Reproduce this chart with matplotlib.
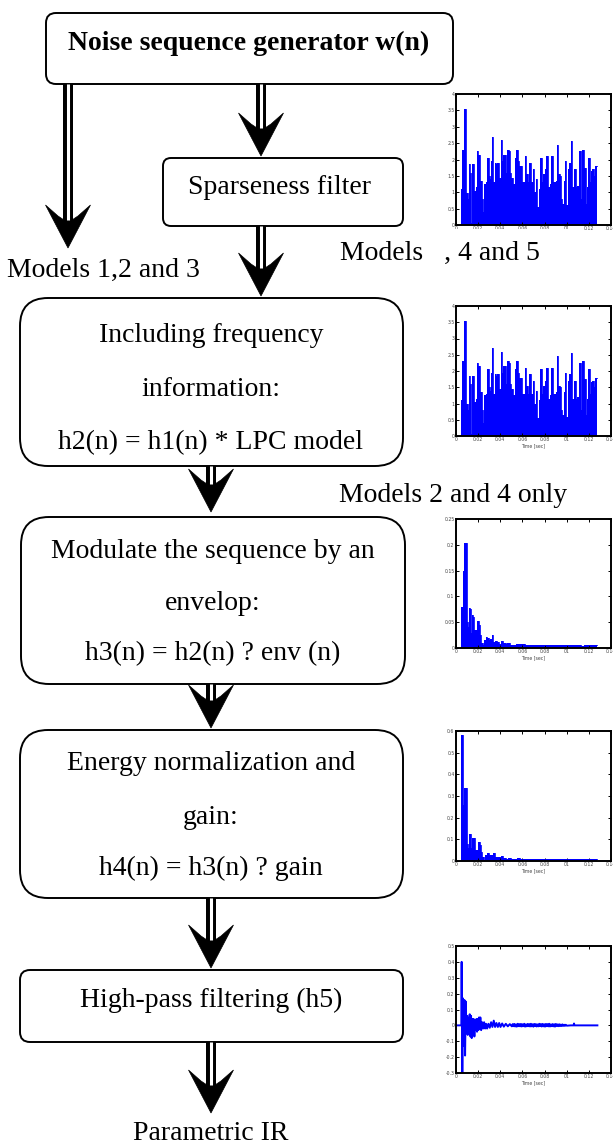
import matplotlib.pyplot as plt
from matplotlib.patches import FancyBboxPatch, Polygon, Rectangle

# ---- data ----
# h1(n) / h2(n): sparse noise magnitude (plots 1 and 2 look identical)
h1_t = [0.0045, 0.0069, 0.0084, 0.0099, 0.0111, 0.0123, 0.0135, 0.0141, 0.0156, 0.0171,
        0.0182, 0.0194, 0.0212, 0.0224, 0.0242, 0.0251, 0.0263, 0.0278, 0.0287, 0.0302,
        0.0308, 0.0323, 0.0329, 0.0344, 0.0356, 0.0368, 0.0380, 0.0398, 0.0413, 0.0422,
        0.0434, 0.0446, 0.0458, 0.0470, 0.0482, 0.0494, 0.0506, 0.0524, 0.0538, 0.0553,
        0.0565, 0.0577, 0.0589, 0.0601, 0.0619, 0.0628, 0.0643, 0.0655, 0.0670, 0.0685,
        0.0703, 0.0715, 0.0727, 0.0745, 0.0757, 0.0769, 0.0781, 0.0793, 0.0811, 0.0823,
        0.0841, 0.0853, 0.0870, 0.0882, 0.0894, 0.0906, 0.0918, 0.0930, 0.0942, 0.0954,
        0.0966, 0.0978, 0.0990, 0.1002, 0.1014, 0.1026, 0.1044, 0.1056, 0.1074, 0.1086,
        0.1098, 0.1116, 0.1134, 0.1146, 0.1164, 0.1176, 0.1188, 0.1200, 0.1212, 0.1224,
        0.1236, 0.1248, 0.1260, 0.1275]
h1_v = [1.1, 2.3, 3.55, 0.97, 0.8, 1.85, 1.6, 0.05, 1.85, 1.05,
        1.15, 2.25, 2.15, 1.35, 0.8, 0.4, 1.25, 1.3, 2.05, 1.5,
        1.4, 1.95, 2.7, 1.3, 1.9, 1.85, 1.9, 1.45, 2.6, 1.95,
        2.15, 2.15, 1.6, 2.3, 2.25, 1.6, 1.45, 1.25, 2.05, 2.3,
        1.95, 1.8, 1.8, 1.3, 1.3, 2.1, 1.55, 1.3, 1.9, 1.3,
        1.7, 1.0, 1.4, 0.55, 1.1, 2.05, 1.3, 1.55, 1.7, 2.1,
        1.15, 1.25, 2.1, 1.3, 1.3, 1.35, 2.45, 1.55, 1.5, 0.8,
        0.65, 1.35, 1.95, 0.6, 1.7, 1.9, 2.55, 1.15, 1.7, 1.15,
        1.2, 2.25, 0.8, 2.3, 1.75, 0.65, 1.15, 2.05, 1.3, 1.65,
        1.7, 1.5, 1.8, 1.8]

# h3(n): enveloped sequence
h3_t = [0.0045, 0.0057, 0.0063, 0.0069, 0.0078, 0.0093, 0.0099, 0.0111, 0.0123, 0.0129,
        0.0135, 0.0141, 0.0150, 0.0158, 0.0170, 0.0182, 0.0194, 0.0203, 0.0212, 0.0224,
        0.0236, 0.0248, 0.0263, 0.0278, 0.0287, 0.0302, 0.0314, 0.0329, 0.0344, 0.0356,
        0.0368, 0.0380, 0.0398, 0.0413, 0.0428, 0.0446, 0.0457, 0.0469, 0.0481, 0.0493,
        0.0505, 0.0523, 0.0553, 0.0583, 0.0607, 0.0637, 0.0667, 0.0697, 0.0727, 0.0756,
        0.0786, 0.0816, 0.0846, 0.0876, 0.0906, 0.0936, 0.0966, 0.0996, 0.1026, 0.1055,
        0.1085, 0.1115, 0.1145, 0.1175, 0.1205, 0.1235, 0.1274]
h3_v = [0.08, 0.08, 0.082, 0.15, 0.203, 0.203, 0.05, 0.04, 0.078, 0.075,
        0.06, 0.03, 0.063, 0.06, 0.035, 0.035, 0.053, 0.052, 0.045, 0.025,
        0.01, 0.005, 0.015, 0.022, 0.02, 0.015, 0.017, 0.025, 0.012, 0.013,
        0.013, 0.012, 0.008, 0.013, 0.01, 0.01, 0.008, 0.01, 0.009, 0.006,
        0.006, 0.005, 0.007, 0.008, 0.007, 0.006, 0.006, 0.005, 0.005, 0.005,
        0.005, 0.005, 0.005, 0.005, 0.005, 0.005, 0.005, 0.005, 0.005, 0.006,
        0.005, 0.005, 0.004, 0.005, 0.005, 0.005, 0.005]

# h4(n): energy normalized
h4_t = [0.0048, 0.0063, 0.0069, 0.0082, 0.0094, 0.0100, 0.0112, 0.0124, 0.0136, 0.0142,
        0.0154, 0.0166, 0.0175, 0.0190, 0.0199, 0.0208, 0.0221, 0.0233, 0.0245, 0.0257,
        0.0269, 0.0287, 0.0305, 0.0323, 0.0341, 0.0359, 0.0378, 0.0396, 0.0420, 0.0438,
        0.0462, 0.0486, 0.0510, 0.0541, 0.0565, 0.0595, 0.0643, 0.0704, 0.0764, 0.0825,
        0.0885, 0.0945, 0.1006, 0.1066, 0.1127, 0.1187, 0.1232, 0.1277]
h4_v = [0.58, 0.58, 0.26, 0.335, 0.335, 0.08, 0.06, 0.125, 0.125, 0.06,
        0.105, 0.105, 0.05, 0.05, 0.088, 0.088, 0.075, 0.04, 0.02, 0.005,
        0.03, 0.037, 0.03, 0.028, 0.035, 0.02, 0.018, 0.018, 0.022, 0.012,
        0.01, 0.015, 0.01, 0.008, 0.012, 0.008, 0.008, 0.009, 0.008, 0.007,
        0.008, 0.008, 0.007, 0.008, 0.007, 0.008, 0.007, 0.008]

# h5(n): high-pass filtered IR (signed)
h5_t = [0.0, 0.0048, 0.0051, 0.0057, 0.0063, 0.0069, 0.0076, 0.0082, 0.0088, 0.0094,
        0.0100, 0.0106, 0.0115, 0.0124, 0.0130, 0.0136, 0.0142, 0.0148, 0.0154, 0.0160,
        0.0166, 0.0172, 0.0178, 0.0184, 0.0190, 0.0196, 0.0202, 0.0208, 0.0214, 0.0220,
        0.0227, 0.0236, 0.0245, 0.0254, 0.0263, 0.0272, 0.0281, 0.0293, 0.0305, 0.0317,
        0.0329, 0.0341, 0.0353, 0.0365, 0.0378, 0.0390, 0.0402, 0.0417, 0.0432, 0.0450,
        0.0468, 0.0486, 0.0504, 0.0512, 0.0519, 0.0527, 0.0534, 0.0542, 0.0549, 0.0557,
        0.0564, 0.0572, 0.0579, 0.0587, 0.0594, 0.0602, 0.0609, 0.0617, 0.0624, 0.0632,
        0.0639, 0.0647, 0.0654, 0.0662, 0.0669, 0.0677, 0.0684, 0.0692, 0.0699, 0.0707,
        0.0714, 0.0722, 0.0729, 0.0737, 0.0744, 0.0752, 0.0759, 0.0767, 0.0774, 0.0782,
        0.0789, 0.0797, 0.0804, 0.0812, 0.0819, 0.0827, 0.0834, 0.0842, 0.0849, 0.0857,
        0.0864, 0.0872, 0.0879, 0.0887, 0.0894, 0.0902, 0.0909, 0.0917, 0.0924, 0.0932,
        0.0939, 0.0947, 0.0954, 0.0962, 0.0969, 0.0977, 0.0984, 0.0992, 0.1000, 0.1036,
        0.1062, 0.1066, 0.1070, 0.1277]
h5_v = [0.0, 0.0, 0.40, -0.32, 0.17, -0.13, 0.16, -0.19, 0.15, -0.05,
        0.06, -0.06, 0.03, 0.07, -0.07, 0.06, -0.08, 0.04, -0.06, 0.04,
        -0.07, 0.03, -0.03, 0.04, -0.04, 0.04, -0.03, 0.05, -0.02, 0.05,
        -0.03, 0.02, -0.02, 0.02, -0.02, 0.01, -0.02, 0.01, -0.015, 0.02,
        -0.01, 0.03, -0.01, 0.015, -0.01, 0.015, -0.01, 0.012, -0.008, 0.01,
        -0.006, 0.008, -0.006, 0.008, -0.005, 0.009, -0.007, 0.006, -0.008, 0.01,
        -0.005, 0.008, -0.006, 0.009, -0.007, 0.007, -0.005, 0.01, -0.008, 0.006,
        -0.006, 0.009, -0.005, 0.008, -0.007, 0.01, -0.006, 0.007, -0.008, 0.009,
        -0.005, 0.008, -0.007, 0.006, -0.006, 0.01, -0.005, 0.008, -0.007, 0.009,
        -0.006, 0.007, -0.008, 0.009, -0.005, 0.008, -0.006, 0.01, -0.007, 0.006,
        -0.005, 0.008, -0.006, 0.007, -0.008, 0.009, -0.004, 0.006, -0.005, 0.007,
        -0.004, 0.005, -0.004, 0.006, -0.003, 0.004, -0.003, 0.004, -0.002, 0.0,
        0.0, 0.012, 0.0, 0.0]

x_ticks = [0, 0.02, 0.04, 0.06, 0.08, 0.10, 0.12, 0.14]
x_ticklabels = ['0', '0.02', '0.04', '0.06', '0.08', '01', '0.12', '0.14']

W, H = 613, 1148
fig = plt.figure(figsize=(W / 100, H / 100), dpi=100)
fig.patch.set_facecolor('white')


def small_axes(left, top, right, bottom):
    return fig.add_axes([left / W, 1 - bottom / H, (right - left) / W, (bottom - top) / H])


def style(ax, ymin, ymax, ystep, xlabel=True):
    ax.set_xlim(0, 0.14)
    ax.set_ylim(ymin, ymax)
    ax.set_xticks(x_ticks)
    ax.set_xticklabels(x_ticklabels)
    n = int(round((ymax - ymin) / ystep))
    yt = [round(ymin + i * ystep, 3) for i in range(n + 1)]
    ax.set_yticks(yt)
    ax.set_yticklabels([f'{v:g}' for v in yt])
    ax.tick_params(direction='in', length=2, width=0.7, top=True, right=True,
                   labelsize=3.3, labelcolor='#444444', pad=1)
    for s in ax.spines.values():
        s.set_linewidth(1.4)
    if xlabel:
        ax.set_xlabel('Time [sec]', fontsize=3.3, color='#444444', labelpad=0.5)


def filled(ax, t, v):
    ax.plot([0, t[0]], [0, 0], color='blue', lw=1)
    ax.fill_between(t, v, 0, step='mid', color='blue', lw=0)
    ax.step(t, v, where='mid', color='blue', lw=0.6)


ax1 = small_axes(456, 94, 611, 225)
filled(ax1, h1_t, h1_v)
style(ax1, 0, 4, 0.5, xlabel=False)

ax2 = small_axes(456, 306, 611, 436)
filled(ax2, h1_t, h1_v)
style(ax2, 0, 4, 0.5)

ax3 = small_axes(456, 519, 611, 648)
filled(ax3, h3_t, h3_v)
style(ax3, 0, 0.25, 0.05)

ax4 = small_axes(456, 731, 611, 861)
filled(ax4, h4_t, h4_v)
style(ax4, 0, 0.6, 0.1)

ax5 = small_axes(456, 946, 611, 1073)
ax5.plot(h5_t, h5_v, color='blue', lw=1.4)
style(ax5, -0.3, 0.5, 0.1)

# ---- flowchart drawn in pixel coordinates ----
ax = fig.add_axes([0, 0, 1, 1], zorder=5)
ax.set_xlim(0, W)
ax.set_ylim(H, 0)
ax.axis('off')
ax.patch.set_alpha(0)

serif = 'Liberation Serif'
fs = 20


def box(x0, y0, x1, y1, r):
    ax.add_patch(FancyBboxPatch((x0, y0), x1 - x0, y1 - y0,
                                boxstyle=f'round,pad=0,rounding_size={r}',
                                fc='white', ec='black', lw=1.4))


def arrow(x, y0, ytip):
    notch = ytip - 28
    ax.plot([x, x], [y0, notch], color='black', lw=7.2, solid_capstyle='butt')
    ax.plot([x, x], [y0, notch], color='white', lw=2.2, solid_capstyle='butt')
    head = [(x, ytip), (x - 22.5, ytip - 43), (x - 10, ytip - 32), (x - 4, ytip - 28),
            (x + 4, ytip - 28), (x + 10, ytip - 32), (x + 22.5, ytip - 43)]
    ax.add_patch(Polygon(head, closed=True, fc='black', ec='black', lw=0.5))


def label(x, y, s, **kw):
    ax.text(x, y, s, ha='center', va='center', fontsize=fs, family=serif, **kw)


box(46, 13, 453, 84, 10)
label(249, 43, 'Noise sequence generator w(n)', weight='bold')

arrow(68, 84, 248)
arrow(261, 84, 156)

box(163, 158, 403, 226, 8)
label(280, 188, 'Sparseness filter')

arrow(261, 226, 296)

# white patch hides most of the x tick labels under the first small plot
ax.add_patch(Rectangle((338, 229), 234, 46, fc='white', ec='none'))
label(440, 253, 'Models   , 4 and 5')
label(103, 270, 'Models 1,2 and 3')

box(20, 298, 403, 466, 28)
label(211, 336, 'Including frequency')
label(211, 389, 'information:')
label(211, 443, 'h2(n) = h1(n) * LPC model')

arrow(211, 466, 512)
label(453, 495, 'Models 2 and 4 only')

box(21, 517, 405, 684, 28)
label(213, 551, 'Modulate the sequence by an')
label(213, 603, 'envelop:')
label(213, 654, 'h3(n) = h2(n) ? env (n)')

arrow(211, 684, 728)

box(20, 730, 403, 898, 28)
label(211, 764, 'Energy normalization and')
label(211, 817, 'gain:')
label(211, 868, 'h4(n) = h3(n) ? gain')

arrow(211, 898, 968)

box(20, 970, 403, 1042, 10)
label(211, 1000, 'High-pass filtering (h5)')

arrow(211, 1042, 1113)
label(211, 1134, 'Parametric IR')

fig.savefig('out.png', dpi=100, facecolor='white')
